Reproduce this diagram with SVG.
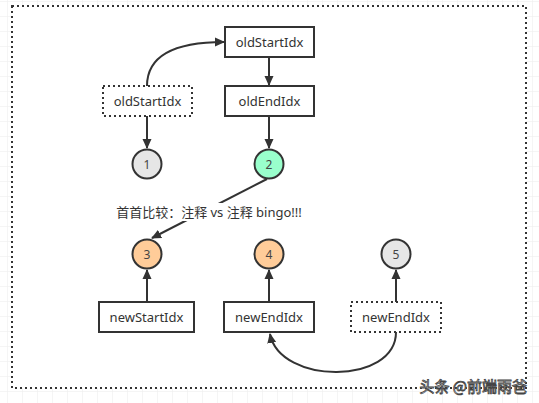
<svg xmlns="http://www.w3.org/2000/svg" width="539" height="403" viewBox="0 0 539 403">
<defs>
<pattern id="grid" x="7" y="1" width="15" height="15" patternUnits="userSpaceOnUse">
<path d="M0 0H15M0 0V15" fill="none" stroke="#ececec" stroke-width="1"/>
</pattern>
<marker id="arr" viewBox="0 0 10 10" refX="9" refY="5" markerWidth="10" markerHeight="10" markerUnits="userSpaceOnUse" orient="auto">
<path d="M0,0.5 L10,5 L0,9.5 Z" fill="#333"/>
</marker>
</defs>
<style>
.box{fill:#fff;stroke:#333;stroke-width:2}
.dot{fill:#fff;stroke:#333;stroke-width:2;stroke-dasharray:2 3}
.t{font-family:"Noto Sans","Noto Sans CJK SC",sans-serif;font-size:13px;fill:#333;text-anchor:middle;dominant-baseline:central}
.n{font-family:"Noto Sans",sans-serif;font-size:12px;fill:#444;text-anchor:middle;dominant-baseline:central}
.c{stroke:#333;stroke-width:2}
.e{fill:none;stroke:#333;stroke-width:2;marker-end:url(#arr)}
</style>
<rect x="0" y="0" width="539" height="403" fill="#fff"/>
<rect x="0" y="0" width="539" height="403" fill="url(#grid)"/>
<rect id="frame" x="12" y="6" width="514" height="382" fill="#fff" stroke="#333" stroke-width="2" stroke-dasharray="2 3"/>

<g id="connectors">
<path class="e" d="M147,86 C147,55 175,42 224,42"/>
<path class="e" d="M269,57 V85"/>
<path class="e" d="M269,116 V148"/>
<path class="e" d="M147,116 V148"/>
<path class="e" d="M267,179 L152,238"/>
<path class="e" d="M147,302 V270"/>
<path class="e" d="M269,302 V270"/>
<path class="e" d="M396,302 V270"/>
<path class="e" d="M396,332 C396,385 280,385 270,334"/>
</g>
<g id="edge-label">
<rect x="113" y="203" width="192" height="18" fill="#fff"/>
<text class="t" x="209" y="212">首首比较：注释 vs 注释 bingo!!!</text>
</g>

<g id="oldStartIdx"><rect class="box" x="225" y="27" width="89" height="30"/><text class="t" x="269.5" y="42">oldStartIdx</text></g>
<g id="oldEndIdx"><rect class="box" x="225" y="86" width="89" height="30"/><text class="t" x="269.5" y="101">oldEndIdx</text></g>
<g id="oldStartIdx-dotted"><rect class="dot" x="103" y="86" width="89" height="30"/><text class="t" x="147.5" y="101">oldStartIdx</text></g>

<g id="n1"><circle class="c" cx="147" cy="164" r="14.5" fill="#e6e6e6"/><text class="n" x="147" y="164">1</text></g>
<g id="n2"><circle class="c" cx="269" cy="164" r="14.5" fill="#99ffcc"/><text class="n" x="269" y="164">2</text></g>
<g id="n3"><circle class="c" cx="147" cy="254" r="14.5" fill="#ffcc99"/><text class="n" x="147" y="254">3</text></g>
<g id="n4"><circle class="c" cx="269" cy="254" r="14.5" fill="#ffcc99"/><text class="n" x="269" y="254">4</text></g>
<g id="n5"><circle class="c" cx="396" cy="254" r="14.5" fill="#e6e6e6"/><text class="n" x="396" y="254">5</text></g>

<g id="newStartIdx"><rect class="box" x="99" y="302" width="95" height="30"/><text class="t" x="146.5" y="317">newStartIdx</text></g>
<g id="newEndIdx"><rect class="box" x="224" y="302" width="90" height="30"/><text class="t" x="269" y="317">newEndIdx</text></g>
<g id="newEndIdx-dotted"><rect class="dot" x="351" y="302" width="90" height="30"/><text class="t" x="396" y="317">newEndIdx</text></g>

<text x="527" y="392" font-family="'Noto Sans CJK SC',sans-serif" font-size="15" text-anchor="end" fill="#fff" stroke="#444" stroke-width="0.8">头条 @前端雨爸</text>
</svg>
